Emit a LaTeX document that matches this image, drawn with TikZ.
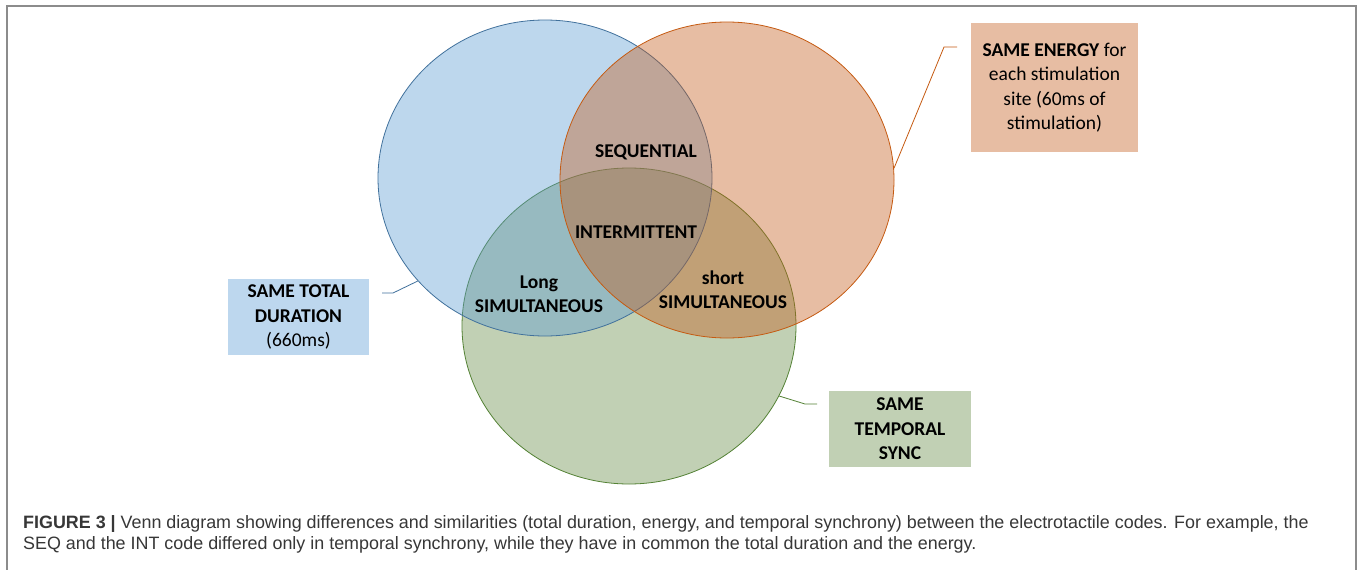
\documentclass[tikz,border=0pt]{standalone}
\usepackage{fontspec}
\setmainfont{Carlito}
\newfontfamily\capfont{Liberation Sans}
\usetikzlibrary{shapes.geometric}
\definecolor{cB}{RGB}{90,155,212}
\definecolor{cO}{RGB}{195,90,25}
\definecolor{cG}{RGB}{100,138,68}
\definecolor{sB}{RGB}{65,113,156}
\definecolor{sO}{RGB}{197,90,17}
\definecolor{sG}{RGB}{84,130,53}
\definecolor{frameC}{RGB}{140,140,140}
\definecolor{capC}{RGB}{55,55,55}
\tikzset{
  venn/.style={ellipse, inner sep=0pt, minimum width=334pt, minimum height=316pt, fill opacity=0.4, draw opacity=1, line width=0.8pt},
  lbl/.style={font=\fontsize{19.5}{24.5}\selectfont\bfseries, align=center, inner sep=0pt},
  infobox/.style={font=\fontsize{19.5}{24.5}\selectfont, align=center, inner sep=0pt},
  callout/.style={line width=0.8pt},
  captext/.style={anchor=base west, inner sep=0pt, font=\capfont\fontsize{17.9}{20}\selectfont, text=capC}
}
\begin{document}
\begin{tikzpicture}[x=1pt,y=-1pt]
\useasboundingbox (0,0) rectangle (1360,570);
\fill[white] (0,0) rectangle (1360,570);
\draw[frameC, line width=1.5pt] (7,570) -- (7,6) -- (1356,6) -- (1356,570);
% ellipses (green first, then blue, then orange)
\node[venn, fill=cG, draw=sG] (greenE) at (629,326) {};
\node[venn, fill=cB, draw=sB] (blueE) at (545,178) {};
\node[venn, fill=cO, draw=sO] (orangeE) at (727,180) {};
% region labels
\node[lbl] (seq) at (646,152) {SEQUENTIAL};
\node[lbl] (int) at (636,232) {INTERMITTENT};
\node[lbl] (long) at (539,294) {Long\\SIMULTANEOUS};
\node[lbl] (short) at (723,289.5) {short\\SIMULTANEOUS};
% boxes
\node[infobox, fill=cB!40, minimum width=141pt, minimum height=76pt] (bluebox) at (298.5,317) {\textbf{SAME TOTAL}\\\textbf{DURATION}\\(660ms)};
\node[infobox, fill=cO!40, minimum width=167pt, minimum height=129pt] (orangebox) at (1054.5,87.5) {\textbf{SAME ENERGY} for\\each stimulation\\site (60ms of\\stimulation)};
\node[infobox, fill=cG!40, minimum width=142pt, minimum height=76pt] (greenbox) at (900,429) {\textbf{SAME}\\\textbf{TEMPORAL}\\\textbf{SYNC}};
% callouts
\coordinate (bc) at (382,293);
\coordinate (oc) at (957,47);
\coordinate (gc) at (817,404);
\draw[callout, sB] (bc) -- ++(11,0) -- (blueE.219.6);
\draw[callout, sO] (oc) -- ++(-13,0) -- (orangeE.4.5);
\draw[callout, sG] (gc) -- ++(-12,0) -- (greenE.335);
% caption
\node[captext] (cap1) at (23,528) {\textbf{FIGURE 3 |} Venn diagram showing differences and similarities (total duration, energy, and temporal synchrony) between the electrotactile codes. For example, the};
\node[captext] (cap2) at (23,549) {SEQ and the INT code differed only in temporal synchrony, while they have in common the total duration and the energy.};
\end{tikzpicture}
\end{document}
